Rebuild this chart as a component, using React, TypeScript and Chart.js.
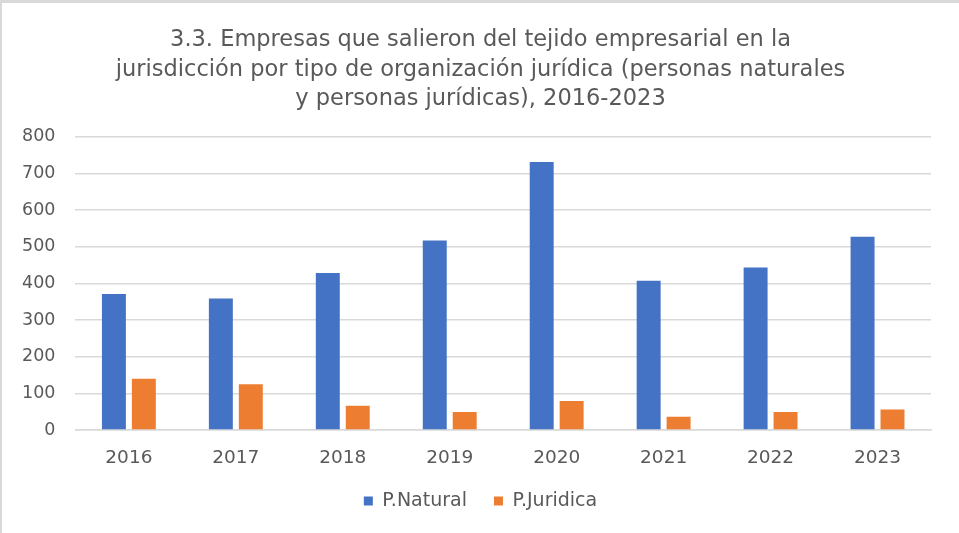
import React, { useEffect, useRef } from "react";
import { Chart, registerables } from "chart.js";

Chart.register(...registerables);

const titleLines = [
  "3.3. Empresas que salieron del tejido empresarial en la",
  "jurisdicción por tipo de organización jurídica (personas naturales",
  "y personas jurídicas), 2016-2023",
];
const years = ["2016", "2017", "2018", "2019", "2020", "2021", "2022", "2023"];
const naturalValues = [371, 359, 428, 517, 731, 407, 443, 527];
const juridicaValues = [140, 125, 66, 49, 79, 36, 49, 56];
const seriesNames = ["P.Natural", "P.Juridica"];

const TEXT = "#595959";
const FONT = "'DejaVu Sans', sans-serif";

export default function App() {
  const ref = useRef<HTMLCanvasElement | null>(null);

  useEffect(() => {
    if (!ref.current) return;
    const chart = new Chart(ref.current, {
      type: "bar",
      data: {
        labels: years,
        datasets: [
          {
            label: seriesNames[0],
            data: naturalValues,
            backgroundColor: "#4472C4",
            categoryPercentage: 0.56,
            barPercentage: 0.8,
          },
          {
            label: seriesNames[1],
            data: juridicaValues,
            backgroundColor: "#ED7D31",
            categoryPercentage: 0.56,
            barPercentage: 0.8,
          },
        ],
      },
      options: {
        animation: false,
        responsive: false,
        maintainAspectRatio: false,
        layout: { padding: { left: 0, right: 0, top: 0, bottom: 12.5 } },
        plugins: {
          title: {
            display: true,
            text: titleLines,
            color: TEXT,
            font: { family: FONT, size: 22.5, weight: "normal", lineHeight: 1.3 },
            padding: { top: 23, bottom: 23 },
          },
          legend: {
            position: "bottom",
            labels: {
              color: TEXT,
              font: { family: FONT, size: 19 },
              boxWidth: 9,
              boxHeight: 9,
              padding: 27,
            },
          },
          tooltip: { enabled: false },
        },
        scales: {
          x: {
            grid: { display: false, drawTicks: false },
            border: { display: true, color: "#d9d9d9", width: 1.5 },
            ticks: {
              color: TEXT,
              font: { family: FONT, size: 18.5, lineHeight: 0.7 },
              padding: 22,
            },
            afterFit: (s: any) => {
              s.height = 34.5;
            },
          },
          y: {
            min: 0,
            max: 800,
            ticks: {
              stepSize: 100,
              color: TEXT,
              font: { family: FONT, size: 17.5 },
              padding: 20,
            },
            grid: { color: "#d9d9d9", lineWidth: 1.5, drawTicks: false },
            border: { display: false },
          },
          yRight: {
            position: "right",
            display: true,
            grid: { display: false, drawTicks: false },
            border: { display: false },
            ticks: { display: false },
            afterFit: (s: any) => {
              s.width = 28;
            },
          },
        },
      },
    });
    return () => chart.destroy();
  }, []);

  return (
    <div
      style={{
        position: "fixed",
        left: 0,
        top: 0,
        width: 959,
        height: 533,
        background: "#fff",
        boxSizing: "border-box",
        borderTop: "3px solid #d9d9d9",
        borderLeft: "2px solid #d9d9d9",
      }}
    >
      <canvas ref={ref} width={957} height={530} style={{ display: "block" }} />
    </div>
  );
}
